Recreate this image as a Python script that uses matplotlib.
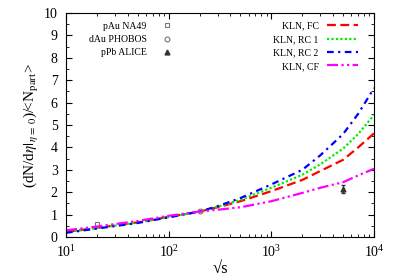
import numpy as np
import matplotlib
matplotlib.use("Agg")
import matplotlib.pyplot as plt
from matplotlib.ticker import MultipleLocator, LogLocator, NullFormatter
from matplotlib.lines import Line2D

plt.rcParams['font.family'] = ['Liberation Serif', 'DejaVu Serif']
plt.rcParams['mathtext.fontset'] = 'stix'

# model curves, values
sqrt_s = [10, 20, 50, 100, 200, 300, 500, 1000, 2000, 3000, 5000, 7000, 10000]
kln_fc = [0.23, 0.41, 0.66, 0.90, 1.14, 1.33, 1.60, 2.05, 2.55, 2.95, 3.45, 4.00, 4.63]
kln_rc1 = [0.22, 0.40, 0.65, 0.89, 1.14, 1.35, 1.66, 2.20, 2.78, 3.25, 3.95, 4.60, 5.45]
kln_rc2 = [0.19, 0.38, 0.63, 0.88, 1.14, 1.38, 1.74, 2.35, 3.00, 3.65, 4.60, 5.50, 6.65]
kln_cf = [0.30, 0.47, 0.72, 0.95, 1.14, 1.22, 1.33, 1.60, 1.97, 2.20, 2.45, 2.75, 3.05]

# data points
na49_x, na49_y = [20], [0.58]
phobos_x, phobos_y = [200], [1.15]
alice_x, alice_y, alice_err = [5020], [2.14], [0.17]

fig = plt.figure(figsize=(3.95, 2.76), dpi=100)
ax = fig.add_axes([0.167, 0.141, 0.780, 0.812])

ax.plot(na49_x, na49_y, 's', ms=3.5, mfc='none', mec='#777777', mew=0.8, ls='none')
ax.plot(phobos_x, phobos_y, 'o', ms=3.5, mfc='none', mec='#777777', mew=0.8, ls='none')
ax.errorbar(alice_x, alice_y, yerr=alice_err, fmt='^', ms=3.5, color='#333333',
            mfc='#333333', capsize=1.5, elinewidth=0.8)

l1, = ax.plot(sqrt_s, kln_fc, color='#ff0000', lw=1.6, ls=(0, (4, 2)))
l2, = ax.plot(sqrt_s, kln_rc1, color='#00ee00', lw=1.6, ls=(0, (1, 1)))
l3, = ax.plot(sqrt_s, kln_rc2, color='#0000ff', lw=1.6, ls=(0, (3, 2, 1, 2)))
l4, = ax.plot(sqrt_s, kln_cf, color='#ff00ff', lw=1.6, ls=(0, (5, 1.5, 1, 1.5, 1, 1.5)))

ax.set_xscale('log')
ax.set_xlim(10, 10000)
ax.set_ylim(0, 10)
ax.yaxis.set_major_locator(MultipleLocator(1))
ax.yaxis.set_minor_locator(MultipleLocator(0.5))
ax.xaxis.set_minor_locator(LogLocator(base=10, subs=np.arange(2, 10)))
ax.xaxis.set_minor_formatter(NullFormatter())
ax.tick_params(which='both', direction='in', top=True, right=True, labelsize=10)
ax.tick_params(which='major', length=4)
ax.tick_params(which='minor', length=2)
ax.tick_params(axis='x', pad=5)
ax.tick_params(axis='y', pad=6)

ax.set_xlabel('√s', fontsize=12, labelpad=1)
ax.set_ylabel(r'(dN/d$\eta|_{\eta\,=\,0}$)/<N$_{\rm part}$>', fontsize=11, labelpad=2)

h1 = Line2D([], [], marker='s', ms=3.5, mfc='none', mec='#777777', mew=0.8, ls='none')
h2 = Line2D([], [], marker='o', ms=3.5, mfc='none', mec='#777777', mew=0.8, ls='none')
h3 = Line2D([], [], marker='^', ms=3.5, mfc='#333333', mec='#333333', ls='none')
leg1 = ax.legend([h1, h2, h3], ['pAu NA49', 'dAu PHOBOS', 'pPb ALICE'],
                 loc='upper left', bbox_to_anchor=(0.045, 1.0), markerfirst=False,
                 frameon=False, fontsize=7, handlelength=1.5, labelspacing=0.45,
                 handletextpad=1.3)
for t in leg1.get_texts():
    t.set_ha('right')
ax.add_artist(leg1)
leg2 = ax.legend([l1, l2, l3, l4], ['KLN, FC', 'KLN, RC 1', 'KLN, RC 2', 'KLN, CF'],
                 loc='upper right', bbox_to_anchor=(0.975, 1.0), markerfirst=False,
                 frameon=False, fontsize=7, handlelength=3.2, labelspacing=0.45)

fig.savefig('out.png', dpi=100)
